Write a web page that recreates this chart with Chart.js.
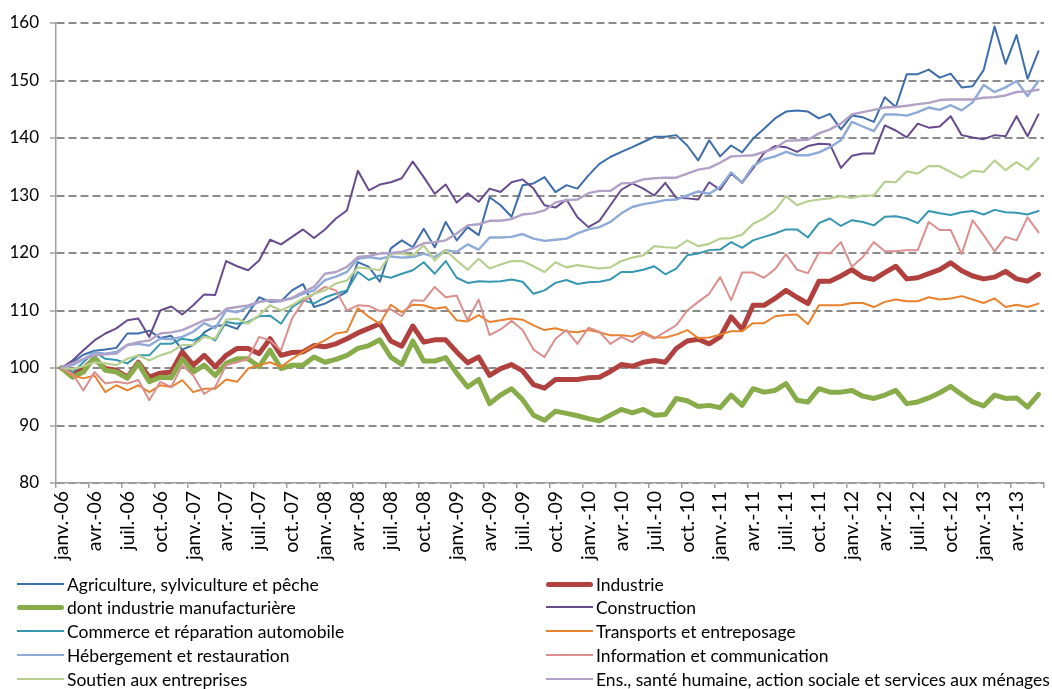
<!DOCTYPE html>
<html lang="fr">
<head>
<meta charset="utf-8">
<title>Indices par secteur</title>
<script src="https://cdn.jsdelivr.net/npm/chart.js@4.4.1/dist/chart.umd.min.js"></script>
<style>
  html, body { margin: 0; padding: 0; background: #fff; }
  #wrap { position: relative; width: 1052px; height: 689px; overflow: hidden; }
  #chart { position: absolute; left: 0; top: 0; }
  #legend { position: absolute; left: 0; top: 0; width: 1052px; height: 689px;
            font-family: Lato, "Open Sans", sans-serif; font-size: 17.5px; color: #000; }
  .item { position: absolute; height: 22px; display: flex; align-items: center; white-space: nowrap; }
  .swatch { width: 47px; margin-right: 3px; }
</style>
</head>
<body>
<div id="wrap">
  <canvas id="chart" width="1052" height="570"></canvas>
  <div id="legend"></div>
</div>
<script>
// Monthly calendar: janv. 2006 to juin 2013 (90 months)
const monthNames = ['janv.', 'févr.', 'mars', 'avr.', 'mai', 'juin', 'juil.', 'août', 'sept.', 'oct.', 'nov.', 'déc.'];
const firstYear = 2006;
const monthCount = 90;
const months = [];
for (let k = 0; k < monthCount; k++) {
  const yy = String((firstYear + Math.floor(k / 12)) % 100).padStart(2, '0');
  months.push(monthNames[k % 12] + '-' + yy);
}

// Axis ticks
const yTicks = [80, 90, 100, 110, 120, 130, 140, 150, 160];

// Series names (legend order, row by row)
const seriesNames = [
  'Agriculture, sylviculture et pêche',
  'Industrie',
  'dont industrie manufacturière',
  'Construction',
  'Commerce et réparation automobile',
  'Transports et entreposage',
  'Hébergement et restauration',
  'Information et communication',
  'Soutien aux entreprises',
  'Ens., santé humaine, action sociale et services aux ménages'
];

// Index values (base 100 = janv. 2006)
const agriculture = [
  100.0, 101.0, 102.3, 103.0, 103.2, 103.5, 106.0, 106.0, 106.5, 105.2, 105.6, 103.2,
  104.0, 106.2, 107.3, 107.5, 106.8, 109.5, 112.3, 111.5, 111.6, 113.5, 114.6, 110.6,
  111.2, 112.2, 113.3, 118.4, 117.6, 115.0, 120.8, 122.2, 121.0, 124.2, 121.0, 125.4,
  122.2, 124.5, 123.1, 129.7, 128.3, 126.3, 131.8, 132.1, 133.2, 130.6, 131.8, 131.2,
  133.5, 135.5, 136.7, 137.6, 138.4, 139.3, 140.2, 140.2, 140.5, 138.7, 136.1, 139.6,
  136.8, 138.7, 137.5, 139.9, 141.6, 143.4, 144.6, 144.8, 144.6, 143.4, 144.2, 141.5,
  143.9, 143.6, 142.8, 147.1, 145.4, 151.1, 151.1, 151.9, 150.5, 151.2, 148.8, 149.0,
  151.8, 159.4, 152.9, 157.9, 150.3, 155.1
];
const industrie = [
  100.0, 99.0, 99.9, 101.6, 99.9, 99.6, 98.4, 101.0, 98.4, 99.1, 99.3, 102.8,
  100.5, 102.2, 100.2, 102.2, 103.4, 103.4, 102.5, 105.1, 102.2, 102.7, 102.8, 103.9,
  103.7, 104.2, 105.1, 106.1, 106.9, 107.7, 104.7, 103.8, 107.3, 104.5, 104.9, 104.9,
  102.8, 100.9, 101.9, 98.7, 99.9, 100.6, 99.5, 97.1, 96.5, 98.0, 98.0, 98.0,
  98.3, 98.4, 99.4, 100.6, 100.3, 101.0, 101.3, 101.0, 103.4, 104.7, 105.0, 104.2,
  105.4, 108.9, 106.7, 110.9, 110.9, 112.1, 113.5, 112.3, 111.2, 115.1, 115.1, 116.0,
  117.1, 115.8, 115.4, 116.6, 117.7, 115.5, 115.7, 116.4, 117.1, 118.3, 116.9, 116.0,
  115.5, 115.8, 116.8, 115.5, 115.1, 116.3
];
const manufacturiere = [
  100.0, 98.4, 99.3, 101.9, 99.6, 99.3, 98.2, 100.8, 97.6, 98.4, 98.3, 101.6,
  99.3, 100.5, 98.7, 100.8, 101.6, 101.6, 100.2, 103.1, 99.9, 100.5, 100.5, 101.9,
  101.0, 101.5, 102.2, 103.4, 103.9, 104.9, 101.9, 100.6, 104.7, 101.2, 101.2, 101.8,
  99.1, 96.7, 98.0, 93.8, 95.3, 96.4, 94.5, 91.8, 90.9, 92.5, 92.1, 91.7,
  91.2, 90.8, 91.8, 92.8, 92.2, 92.8, 91.8, 91.9, 94.7, 94.3, 93.3, 93.5,
  93.1, 95.3, 93.5, 96.4, 95.8, 96.1, 97.3, 94.4, 94.1, 96.4, 95.8, 95.8,
  96.1, 95.1, 94.7, 95.3, 96.1, 93.8, 94.1, 94.8, 95.7, 96.8, 95.4, 94.1,
  93.4, 95.3, 94.7, 94.8, 93.2, 95.4
];
const construction = [
  100.0, 101.3, 103.1, 104.8, 106.0, 106.9, 108.3, 108.6, 105.4, 110.0, 110.7, 109.3,
  110.9, 112.8, 112.7, 118.6, 117.7, 117.0, 118.7, 122.3, 121.5, 122.8, 124.1, 122.6,
  124.1, 126.0, 127.4, 134.3, 130.9, 131.9, 132.3, 133.0, 135.9, 133.2, 130.3, 131.9,
  128.8, 130.4, 128.9, 131.2, 130.6, 132.3, 132.8, 131.2, 128.3, 127.9, 129.3, 126.2,
  124.5, 125.6, 128.3, 131.0, 132.1, 131.2, 130.0, 132.2, 129.6, 129.5, 129.3, 132.3,
  131.0, 133.8, 132.2, 134.7, 137.4, 138.6, 138.4, 137.6, 138.6, 139.0, 138.9, 134.8,
  136.9, 137.3, 137.3, 142.2, 141.3, 140.1, 142.5, 141.8, 142.0, 143.8, 140.5, 140.1,
  139.8, 140.5, 140.3, 143.8, 140.3, 144.1
];
const commerce = [
  100.0, 99.2, 101.0, 102.8, 101.6, 101.4, 100.8, 102.2, 102.2, 104.2, 104.2, 105.1,
  104.8, 105.8, 104.8, 108.0, 107.7, 108.0, 109.0, 109.1, 107.7, 110.6, 111.8, 111.2,
  112.3, 112.9, 113.5, 116.7, 115.3, 116.1, 115.7, 116.4, 117.0, 118.4, 116.4, 118.6,
  115.7, 114.8, 115.1, 115.0, 115.1, 115.4, 115.0, 112.9, 113.5, 114.8, 115.3, 114.6,
  114.9, 115.0, 115.4, 116.7, 116.7, 117.1, 117.7, 116.3, 117.3, 119.6, 119.9, 120.5,
  120.6, 121.9, 120.9, 122.2, 122.8, 123.4, 124.1, 124.1, 122.7, 125.2, 126.0, 124.7,
  125.7, 125.4, 124.8, 126.3, 126.4, 126.0, 125.2, 127.3, 126.9, 126.6, 127.1, 127.3,
  126.7, 127.5, 127.1, 127.0, 126.7, 127.3
];
const transports = [
  100.0, 98.7, 98.2, 98.7, 95.8, 97.0, 96.1, 97.0, 95.8, 97.0, 96.7, 97.9,
  95.8, 96.4, 96.4, 98.0, 97.6, 99.9, 100.5, 101.0, 100.2, 101.6, 102.8, 103.9,
  104.8, 106.0, 106.3, 110.4, 108.9, 107.7, 111.0, 109.7, 111.0, 110.9, 110.3, 110.6,
  108.3, 108.1, 109.2, 108.0, 108.3, 108.6, 108.4, 107.4, 106.6, 106.9, 106.4, 106.2,
  106.6, 106.2, 105.7, 105.7, 105.5, 106.3, 105.3, 105.3, 105.8, 106.6, 105.2, 105.3,
  105.8, 106.4, 106.4, 107.8, 107.8, 109.0, 109.2, 109.3, 107.6, 110.9, 110.9, 110.9,
  111.3, 111.3, 110.6, 111.5, 111.9, 111.6, 111.6, 112.3, 111.9, 112.1, 112.5, 111.9,
  111.3, 112.1, 110.6, 111.0, 110.6, 111.2
];
const hebergement = [
  100.0, 100.5, 101.5, 102.7, 102.5, 102.8, 104.0, 104.2, 103.9, 105.1, 105.0, 105.4,
  106.3, 107.8, 106.9, 110.0, 109.7, 110.6, 111.5, 111.8, 111.7, 112.1, 112.9, 113.5,
  115.3, 115.9, 116.7, 119.0, 119.3, 119.0, 119.4, 119.2, 119.3, 119.9, 119.3, 120.5,
  120.2, 121.5, 120.6, 122.7, 122.7, 122.8, 123.3, 122.5, 122.1, 122.3, 122.5, 123.4,
  124.1, 124.5, 125.4, 126.9, 128.0, 128.5, 128.8, 129.2, 129.3, 130.0, 130.7, 130.3,
  131.5, 134.0, 132.3, 135.1, 136.3, 136.8, 137.6, 137.0, 137.0, 137.5, 138.4, 139.6,
  142.8, 142.0, 141.2, 144.1, 144.1, 143.9, 144.5, 145.3, 144.9, 145.7, 144.8, 146.2,
  149.2, 148.0, 148.8, 149.9, 147.3, 149.9
];
const information = [
  100.0, 99.0, 96.1, 99.3, 97.3, 97.6, 97.3, 97.9, 94.4, 97.6, 96.7, 100.5,
  98.7, 95.5, 96.7, 100.5, 101.0, 101.6, 105.4, 104.8, 103.1, 108.6, 111.5, 112.9,
  114.1, 113.5, 110.0, 110.9, 110.8, 109.9, 110.2, 109.0, 111.8, 111.7, 114.1, 112.3,
  112.6, 108.3, 111.9, 105.7, 106.7, 108.2, 106.6, 103.2, 101.9, 105.1, 106.6, 104.2,
  107.0, 106.3, 104.2, 105.4, 104.5, 106.0, 105.1, 106.3, 107.4, 110.0, 111.5, 112.9,
  115.8, 111.8, 116.6, 116.6, 115.7, 117.2, 119.8, 117.1, 116.5, 120.1, 119.9, 121.9,
  117.6, 119.3, 121.9, 120.3, 120.3, 120.5, 120.5, 125.4, 124.0, 124.0, 119.8, 125.7,
  123.1, 120.3, 122.8, 122.2, 126.2, 123.6
];
const soutien = [
  100.0, 99.8, 100.3, 101.0, 100.8, 100.5, 101.6, 102.2, 101.3, 102.2, 102.8, 104.0,
  104.0, 105.4, 105.1, 108.4, 108.6, 107.7, 109.2, 110.9, 110.0, 110.9, 112.1, 112.9,
  113.5, 114.7, 115.2, 117.5, 117.3, 117.0, 119.9, 119.9, 119.6, 121.3, 118.7, 120.5,
  118.7, 117.1, 119.0, 117.3, 118.0, 118.6, 118.6, 117.7, 116.7, 118.4, 117.5, 117.9,
  117.6, 117.3, 117.5, 118.6, 119.2, 119.6, 121.2, 121.0, 120.9, 122.2, 121.2, 121.6,
  122.5, 122.6, 123.2, 125.1, 126.0, 127.4, 129.9, 128.3, 129.0, 129.3, 129.5, 129.9,
  129.6, 130.0, 130.0, 132.4, 132.3, 134.2, 133.8, 135.1, 135.1, 134.1, 133.1, 134.3,
  134.1, 136.1, 134.4, 135.8, 134.5, 136.5
];
const enseignementSante = [
  100.0, 100.8, 101.6, 102.2, 102.4, 102.5, 104.0, 104.5, 104.8, 106.0, 106.2, 106.6,
  107.4, 108.3, 108.6, 110.3, 110.6, 110.9, 111.5, 111.8, 111.7, 112.2, 113.2, 114.1,
  116.4, 116.7, 117.6, 119.3, 119.5, 119.9, 120.0, 120.2, 120.8, 121.7, 121.9, 122.2,
  123.4, 124.8, 125.0, 125.6, 125.6, 125.9, 126.7, 126.9, 127.4, 128.8, 129.2, 129.3,
  130.4, 130.8, 130.8, 132.1, 132.2, 132.8, 133.0, 133.1, 133.1, 133.8, 134.5, 134.8,
  135.7, 136.8, 136.9, 137.0, 137.6, 138.2, 139.5, 139.6, 139.7, 140.8, 141.5, 142.5,
  144.1, 144.5, 144.9, 145.3, 145.4, 145.6, 145.9, 146.1, 146.6, 146.7, 146.7, 146.7,
  147.0, 147.1, 147.4, 148.0, 148.1, 148.4
];

const seriesValues = [agriculture, industrie, manufacturiere, construction, commerce,
                      transports, hebergement, information, soutien, enseignementSante];

// Line styles
const seriesColors = ['#3d6daa', '#b0413e', '#89ac4b', '#674b8e', '#3797b1',
                      '#e8822f', '#8eaad8', '#d9908e', '#b8d08f', '#b2a1c7'];
const seriesWidths = [2, 5, 5, 2, 2, 2, 2.4, 2, 2.2, 2.4];

const gridGray = '#8b8b8b';
const axisGray = '#a0a0a0';
const fontFamily = 'Lato, "Open Sans", sans-serif';

const datasets = seriesNames.map((name, i) => ({
  label: name,
  data: seriesValues[i],
  borderColor: seriesColors[i],
  backgroundColor: seriesColors[i],
  borderWidth: seriesWidths[i],
  borderJoinStyle: 'round',
  borderCapStyle: 'round',
  pointRadius: 0,
  tension: 0,
  fill: false,
  order: seriesNames.length - i   // later series drawn above earlier ones
}));

new Chart(document.getElementById('chart'), {
  type: 'line',
  data: { labels: months, datasets },
  options: {
    responsive: false,
    animation: false,
    devicePixelRatio: 1,
    layout: { padding: { top: 23, right: 8, left: 0, bottom: 0 } },
    plugins: { legend: { display: false }, tooltip: { enabled: false } },
    scales: {
      x: {
        type: 'category',
        offset: true,
        grid: {
          offset: true,
          drawOnChartArea: false,
          drawTicks: true,
          tickLength: 5,
          lineWidth: 1.5,
          color: ctx => (ctx.index === undefined || ctx.index % 3 === 0) ? axisGray : 'rgba(0,0,0,0)'
        },
        border: { display: true, color: axisGray, width: 1.5 },
        ticks: {
          autoSkip: false,
          minRotation: 90,
          maxRotation: 90,
          padding: 3,
          color: '#000',
          font: { family: fontFamily, size: 19.5 },
          callback: (value, index) => (index % 3 === 0 ? months[index] : '')
        },
        afterFit: scale => {
          scale.height = 87;
          scale.paddingLeft = 0;
          scale.paddingRight = 0;
        }
      },
      y: {
        min: yTicks[0],
        max: yTicks[yTicks.length - 1],
        afterBuildTicks: scale => { scale.ticks = yTicks.map(v => ({ value: v })); },
        grid: {
          color: gridGray,
          lineWidth: 2,
          tickLength: 6,
          tickColor: axisGray,
          tickWidth: 1.5
        },
        border: { display: true, color: axisGray, width: 1.5, dash: [8, 4] },
        ticks: {
          padding: 11,
          color: '#000',
          font: { family: fontFamily, size: 17 }
        },
        afterFit: scale => {
          scale.width = 56;
          scale.paddingTop = 0;
          scale.paddingBottom = 0;
        }
      }
    }
  }
});

// Legend: two columns, filled row by row
const legend = document.getElementById('legend');
const colX = [17, 546];
const rowY = [573, 596, 620, 644, 668];
seriesNames.forEach((name, i) => {
  const item = document.createElement('div');
  item.className = 'item';
  item.style.left = colX[i % 2] + 'px';
  item.style.top = rowY[Math.floor(i / 2)] + 'px';
  const sw = document.createElement('span');
  sw.className = 'swatch';
  sw.style.height = seriesWidths[i] + 'px';
  sw.style.background = seriesColors[i];
  sw.style.borderRadius = seriesWidths[i] > 3 ? '3px' : '0';
  const tx = document.createElement('span');
  tx.textContent = name;
  item.appendChild(sw);
  item.appendChild(tx);
  legend.appendChild(item);
});
</script>
</body>
</html>
